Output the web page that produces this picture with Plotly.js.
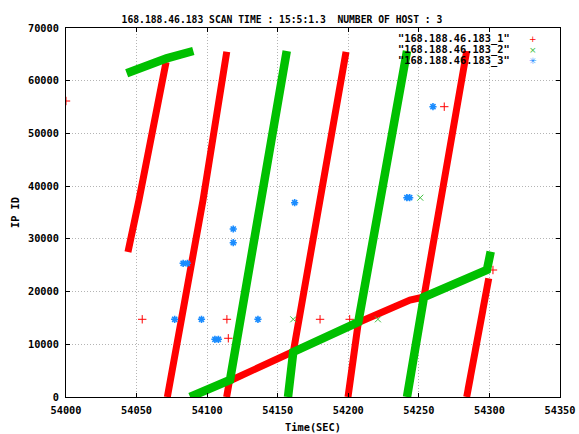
<!DOCTYPE html>
<html>
<head>
<meta charset="utf-8">
<script src="https://cdn.plot.ly/plotly-3.0.1.min.js"></script>
<style>html,body{margin:0;padding:0;background:#fff;}#chart{width:579px;height:434px;}</style>
</head>
<body>
<div id="chart"></div>
<script>
// ---- data ----
const seriesNames = ['"168.188.46.183_1"', '"168.188.46.183_2"', '"168.188.46.183_3"'];

// dense runs of host 1 (red) drawn as thick bands, null separates runs
const host1RunX = [54043.9, 54051.7, 54070.9, null,
                   54071.8, 54097.1, 54113.9, null,
                   54113.8, 54115.8, 54161.1, 54198.4, null,
                   54199.8, 54207.1, 54243.7, 54253.6, 54283.9, null,
                   54283.9, 54299.5];
const host1RunY = [27507, 37371, 63550, null,
                   0, 37371, 65500, null,
                   0, 3035, 8630, 65450, null,
                   0, 14133, 18400, 18970, 65640, null,
                   0, 22520];

// dense runs of host 2 (green)
const host2RunX = [54043.0, 54071.3, 54090.2, null,
                   54087.9, 54116.2, 54156.4, null,
                   54157.3, 54161.0, 54207.1, 54241.6, null,
                   54241.6, 54253.6, 54298.2, 54300.9];
const host2RunY = [61400, 64250, 65640, null,
                   0, 3225, 65640, null,
                   0, 8536, 14228, 65640, null,
                   0, 18970, 24090, 27560];

// isolated samples
const host1X = [54000, 54054, 54114, 54115, 54180, 54201, 54268, 54302.5];
const host1Y = [56150, 14740, 14740, 11140, 14740, 14740, 55070, 24090];
const host2X = [54161, 54221, 54251];
const host2Y = [14740, 14740, 37810];
const host3X = [54077, 54083, 54086, 54096, 54105.5, 54108, 54118.5, 54118.5, 54136, 54162, 54241.5, 54243.5, 54260];
const host3Y = [14740, 25360, 25360, 14740, 10950, 10950, 31870, 29270, 14740, 36860, 37810, 37810, 55070];

const titleText = '168.188.46.183 SCAN TIME : 15:5:1.3  NUMBER OF HOST : 3';
const xTitle = 'Time(SEC)';
const yTitle = 'IP ID';

// ---- styling ----
const RED = '#ff0000', GREEN = '#00c000', BLUE = '#1a8cff';
const MONO = 'DejaVu Sans Mono, Liberation Mono, monospace';

const traces = [
  {x: host1RunX, y: host1RunY, mode: 'lines', line: {color: RED, width: 7}, connectgaps: false, showlegend: false, hoverinfo: 'skip'},
  {x: host1X, y: host1Y, mode: 'markers', name: seriesNames[0], showlegend: false,
   marker: {symbol: 'cross-thin', size: 6, line: {color: RED, width: 1}}},
  {x: host2RunX, y: host2RunY, mode: 'lines', line: {color: GREEN, width: 8.5}, connectgaps: false, showlegend: false, hoverinfo: 'skip'},
  {x: host2X, y: host2Y, mode: 'markers', name: seriesNames[1], showlegend: false,
   marker: {symbol: 'x-thin', size: 6, line: {color: '#40c040', width: 1}}},
  {x: host3X, y: host3Y, mode: 'markers', name: seriesNames[2], showlegend: false,
   marker: {symbol: 'asterisk', size: 6, line: {color: BLUE, width: 1.6}}}
];

// legend in gnuplot style: right-aligned label, key symbol to the right
const legendY = [0.9721, 0.9423, 0.9106];
const keyGlyph = ['+', '\u00d7', '\u2733'];
const keyColor = [RED, '#40c040', BLUE];
const annotations = [];
seriesNames.forEach((n, i) => {
  annotations.push({xref: 'paper', yref: 'paper', x: 0.9008, y: legendY[i], xanchor: 'right', yanchor: 'middle',
    text: n, showarrow: false, borderpad: 0,
    font: {family: MONO, size: 10.3, weight: 'bold', color: '#000'}});
  annotations.push({xref: 'paper', yref: 'paper', x: 0.9453, y: legendY[i], xanchor: 'center', yanchor: 'middle',
    text: keyGlyph[i], showarrow: false, borderpad: 0, height: 9, valign: 'middle',
    font: {family: 'DejaVu Sans', size: 9, color: keyColor[i]}});
});

const axisCommon = {
  showgrid: true, gridcolor: '#b4b4b4', griddash: '1px,2px', gridwidth: 1,
  showline: true, linecolor: '#000', linewidth: 1, mirror: 'ticks',
  ticks: 'inside', ticklen: 4, tickcolor: '#000', tickwidth: 1,
  zeroline: false, tickformat: 'd',
  tickfont: {family: MONO, size: 10.3, weight: 'bold', color: '#000'},
  automargin: false, fixedrange: true
};

const layout = {
  width: 579, height: 434,
  margin: {l: 66, r: 19, t: 28, b: 37},
  paper_bgcolor: '#fff', plot_bgcolor: '#fff',
  showlegend: false,
  title: {text: titleText, xref: 'container', yref: 'container', x: 0.487, y: 0.955,
          xanchor: 'center', yanchor: 'middle', font: {family: MONO, size: 9.7, weight: 'bold', color: '#000'}},
  xaxis: Object.assign({}, axisCommon, {range: [54000, 54350], tick0: 54000, dtick: 50, ticklabelstandoff: 4,
    title: {text: xTitle, standoff: 8, font: {family: MONO, size: 10.3, weight: 'bold', color: '#000'}}}),
  yaxis: Object.assign({}, axisCommon, {range: [0, 70000], tick0: 0, dtick: 10000, ticklabelstandoff: 4,
    title: {text: yTitle, standoff: 6, font: {family: MONO, size: 10.3, weight: 'bold', color: '#000'}}}),
  annotations: annotations
};

Plotly.newPlot('chart', traces, layout, {displayModeBar: false, staticPlot: true});
</script>
</body>
</html>
